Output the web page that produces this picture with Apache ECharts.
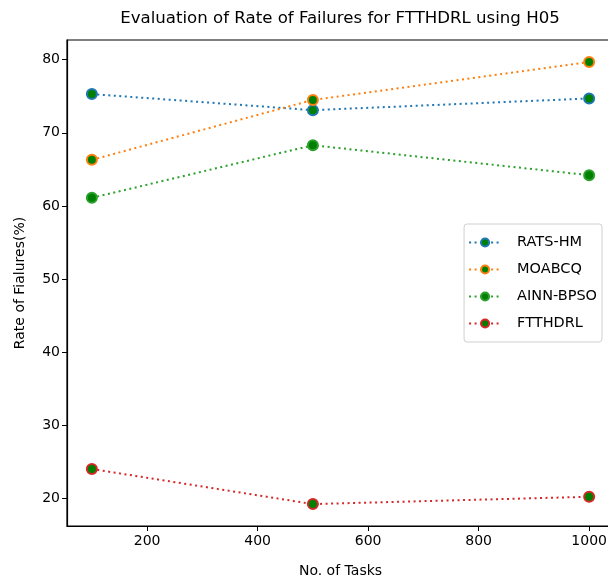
<!DOCTYPE html>
<html>
<head>
<meta charset="utf-8">
<script src="https://cdn.jsdelivr.net/npm/echarts@6/dist/echarts.min.js"></script>
<style>
  html, body { margin: 0; padding: 0; background: #fff; overflow: hidden; }
  #myChart { width: 614px; height: 585px; }
</style>
</head>
<body>
<div id="myChart"></div>
<script>
// data
var tasks = [100, 500, 1000];
var ratsHm = [75.3, 73.1, 74.7];
var moabcq = [66.3, 74.5, 79.7];
var ainnBpso = [61.1, 68.3, 64.2];
var ftthdrl = [24.0, 19.2, 20.2];
var xTicks = [200, 400, 600, 800, 1000];
var yTicks = [20, 30, 40, 50, 60, 70, 80];

var seriesNames = ['RATS-HM', 'MOABCQ', 'AINN-BPSO', 'FTTHDRL'];
var seriesColors = ['#1f77b4', '#ff7f0e', '#2ca02c', '#d62728'];
var seriesData = [ratsHm, moabcq, ainnBpso, ftthdrl];

var font = 'DejaVu Sans';

function pairs(ys) {
    var out = [];
    for (var i = 0; i < tasks.length; i++) {
        out.push([tasks[i], ys[i]]);
    }
    return out;
}

function buildSeries() {
    var list = [];
    for (var i = 0; i < seriesNames.length; i++) {
        list.push({
            name: seriesNames[i],
            type: 'line',
            data: pairs(seriesData[i]),
            symbol: 'circle',
            symbolSize: 10,
            color: seriesColors[i],
            lineStyle: { color: seriesColors[i], width: 2, type: [2, 3.5] },
            itemStyle: { color: '#008000', borderColor: seriesColors[i], borderWidth: 2 },
            emphasis: { disabled: true },
            z: 3
        });
    }
    return list;
}

// the plot runs slightly past the right edge of the window, as in the reference
var myChart = echarts.init(document.getElementById('myChart'));
var option = {
    animation: false,
    backgroundColor: '#fff',
    title: {
        text: 'Evaluation of Rate of Failures for FTTHDRL using H05',
        left: 335,
        top: 5,
        textAlign: 'center',
        textStyle: { fontFamily: font, fontSize: 16.6, fontWeight: 'normal', color: '#000' }
    },
    legend: {
        orient: 'vertical',
        right: 12,
        top: 224,
        itemWidth: 32,
        itemHeight: 10,
        itemGap: 12,
        padding: [11, 5, 11, 4],
        backgroundColor: '#fff',
        borderColor: '#d0d0d0',
        borderWidth: 1,
        borderRadius: 3,
        textStyle: { fontFamily: font, fontSize: 14.5, color: '#000', padding: [0, 0, 0, 11] },
        data: seriesNames
    },
    grid: { left: 67, right: 0, top: 40, bottom: 59, show: true, borderColor: '#000', borderWidth: 1.2 },
    xAxis: {
        type: 'value',
        min: 55,
        max: 1045,
        name: 'No. of Tasks',
        nameLocation: 'middle',
        nameGap: 38,
        nameTextStyle: { fontFamily: font, fontSize: 14, color: '#000' },
        splitLine: { show: false },
        axisLine: { show: true, lineStyle: { color: '#000', width: 1.2 } },
        axisTick: { show: true, inside: false, length: 5, customValues: xTicks, lineStyle: { color: '#000' } },
        axisLabel: {
            customValues: xTicks, fontFamily: font, fontSize: 14, color: '#000', margin: 8,
            formatter: function (v) { return String(v); }
        }
    },
    yAxis: {
        type: 'value',
        min: 16.2,
        max: 82.7,
        name: 'Rate of Fialures(%)',
        nameLocation: 'middle',
        nameGap: 40,
        nameTextStyle: { fontFamily: font, fontSize: 14, color: '#000' },
        splitLine: { show: false },
        axisLine: { show: true, lineStyle: { color: '#000', width: 1.2 } },
        axisTick: { show: true, inside: false, length: 5, customValues: yTicks, lineStyle: { color: '#000' } },
        axisLabel: { customValues: yTicks, fontFamily: font, fontSize: 14, color: '#000', margin: 7 }
    },
    series: buildSeries()
};
myChart.setOption(option);
</script>
</body>
</html>
